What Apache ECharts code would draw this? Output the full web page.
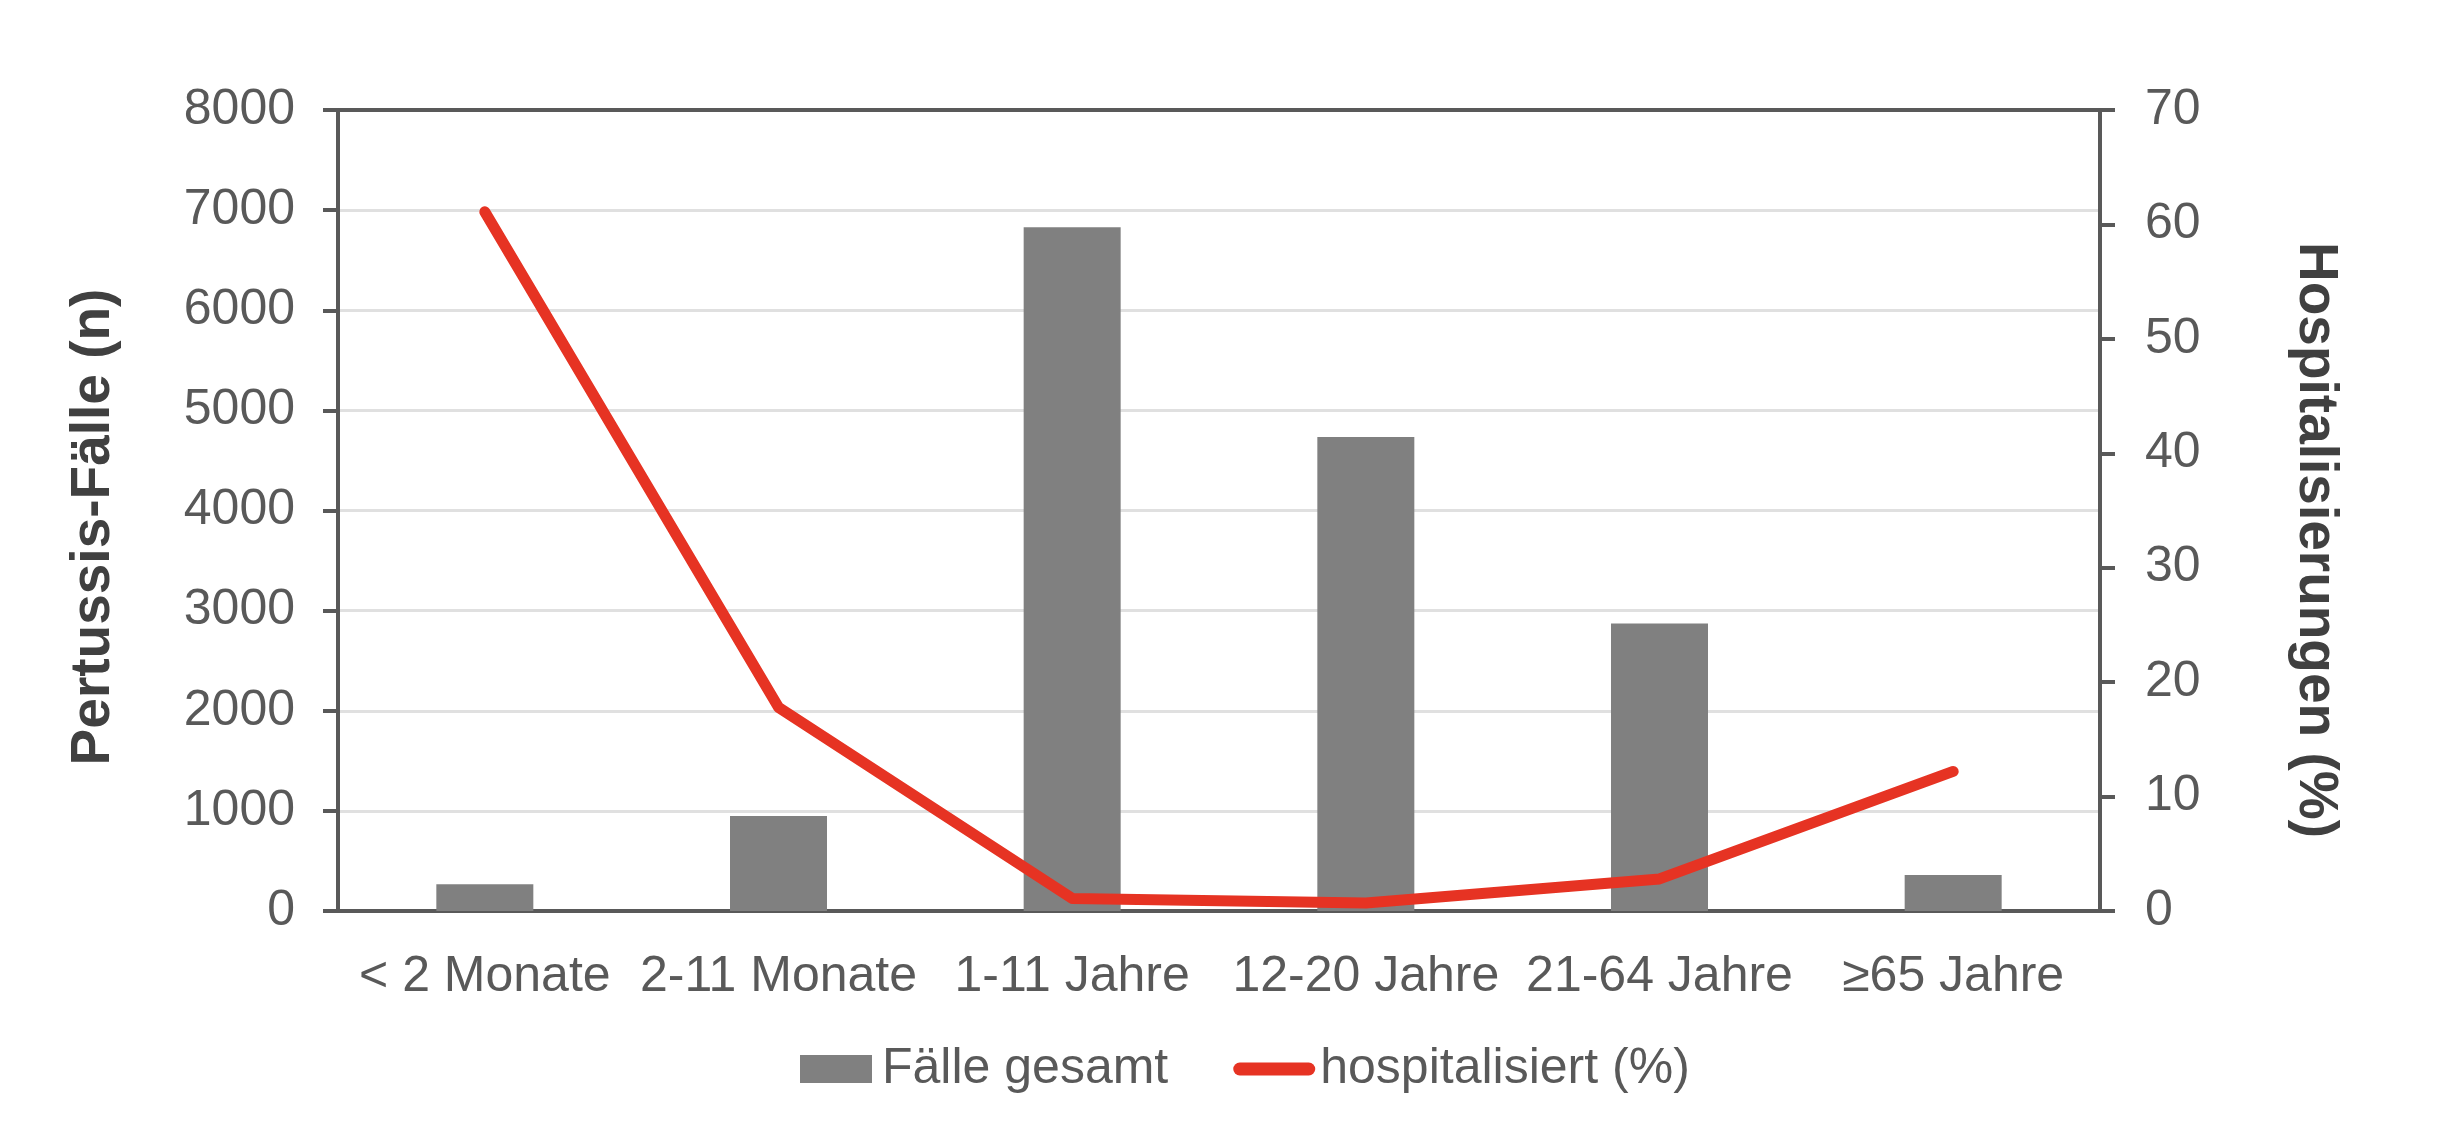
<!DOCTYPE html>
<html>
<head>
<meta charset="utf-8">
<title>Pertussis-Fälle und Hospitalisierungen</title>
<script src="https://cdn.jsdelivr.net/npm/echarts@6.0.0/dist/echarts.min.js"></script>
<style>
  html, body { margin: 0; padding: 0; background: #fff; }
  #chart { width: 2438px; height: 1146px; }
</style>
</head>
<body>
<div id="chart"></div>
<script>
  // age groups
  const categories = ["< 2 Monate", "2-11 Monate", "1-11 Jahre", "12-20 Jahre", "21-64 Jahre", "≥65 Jahre"];
  // total cases (left axis)
  const casesTotal = [268, 948, 6830, 4735, 2872, 360];
  // share hospitalised in % (right axis)
  const hospitalPct = [61.1, 17.8, 1.1, 0.7, 2.8, 12.2];

  const leftTicks = { min: 0, max: 8000, interval: 1000 };
  const rightTicks = { min: 0, max: 70, interval: 10 };

  const axisColor = "#595959";
  const fontFamily = "'Liberation Sans', Arial, sans-serif";

  const chart = echarts.init(document.getElementById("chart"), null, { renderer: "canvas" });

  chart.setOption({
    animation: false,
    backgroundColor: "#ffffff",
    textStyle: { fontFamily: fontFamily },
    grid: {
      left: 338,
      right: 338,
      top: 110,
      bottom: 235,
      show: true,
      borderColor: axisColor,
      borderWidth: 4
    },
    legend: {
      left: 800,
      top: 1044,
      itemWidth: 82,
      itemHeight: 28,
      itemGap: 65,
      padding: 0,
      textStyle: { fontSize: 50, color: axisColor, fontFamily: fontFamily },
      data: [
        { name: "Fälle gesamt", icon: "path://M0,0H72V28H0Z" },
        {
          name: "hospitalisiert (%)",
          icon: "path://M6.5,0H75.5A6.5,6.5,0,0,1,75.5,13H6.5A6.5,6.5,0,0,1,6.5,0Z",
          itemStyle: { borderWidth: 0 }
        }
      ]
    },
    xAxis: {
      type: "category",
      data: categories,
      axisLine: { show: true, lineStyle: { color: axisColor, width: 4 } },
      axisTick: { show: false },
      axisLabel: { interval: 0, margin: 41, fontSize: 50, color: axisColor }
    },
    yAxis: [
      {
        type: "value",
        min: leftTicks.min,
        max: leftTicks.max,
        interval: leftTicks.interval,
        name: "Pertussis-Fälle (n)",
        nameLocation: "middle",
        nameGap: 217,
        nameTextStyle: { fontSize: 55, fontWeight: "bold", color: "#404040", padding: [0, 33, 0, 0] },
        axisLine: { show: true, lineStyle: { color: axisColor, width: 4 } },
        axisTick: { show: true, length: 15, lineStyle: { color: axisColor, width: 4 } },
        axisLabel: {
          margin: 43,
          fontSize: 50,
          color: axisColor,
          formatter: function (v) { return String(v); }
        },
        splitLine: {
          show: true,
          showMinLine: false,
          showMaxLine: false,
          lineStyle: { color: "#e0e0e0", width: 3 }
        }
      },
      {
        type: "value",
        position: "right",
        min: rightTicks.min,
        max: rightTicks.max,
        interval: rightTicks.interval,
        name: "Hospitalisierungen (%)",
        nameLocation: "middle",
        nameRotate: -90,
        nameGap: 188,
        nameTextStyle: { fontSize: 55, fontWeight: "bold", color: "#404040", padding: [0, 0, 0, 59] },
        axisLine: { show: true, lineStyle: { color: axisColor, width: 4 } },
        axisTick: { show: true, length: 15, lineStyle: { color: axisColor, width: 4 } },
        axisLabel: { margin: 45, fontSize: 50, color: axisColor },
        splitLine: { show: false }
      }
    ],
    series: [
      {
        name: "Fälle gesamt",
        type: "bar",
        yAxisIndex: 0,
        data: casesTotal,
        barWidth: 97,
        itemStyle: { color: "#808080" }
      },
      {
        name: "hospitalisiert (%)",
        type: "line",
        yAxisIndex: 1,
        data: hospitalPct,
        symbol: "none",
        smooth: false,
        itemStyle: { color: "#e63323" },
        lineStyle: { color: "#e63323", width: 11, cap: "round", join: "round" }
      }
    ]
  });
</script>
</body>
</html>
